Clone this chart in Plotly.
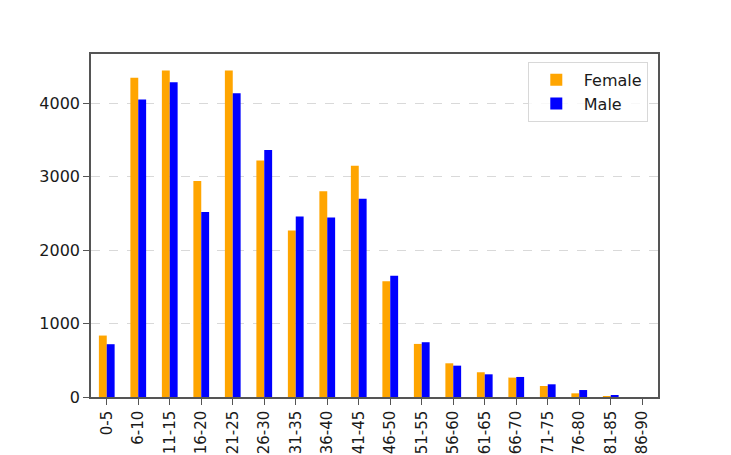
import plotly.graph_objects as go

age_groups = [
    "0-5", "6-10", "11-15", "16-20", "21-25", "26-30", "31-35", "36-40", "41-45",
    "46-50", "51-55", "56-60", "61-65", "66-70", "71-75", "76-80", "81-85", "86-90",
]
female = [837, 4348, 4447, 2943, 4447, 3220, 2269, 2801, 3151,
          1578, 723, 459, 337, 264, 150, 50, 4, 0]
male = [719, 4052, 4288, 2519, 4138, 3365, 2460, 2446, 2701,
        1651, 746, 427, 309, 273, 173, 95, 18, 0]

FONT = "DejaVu Sans, Arial, sans-serif"
TEXT = "#1a1a1a"
SPINE = "#555555"

fig = go.Figure()
fig.add_trace(go.Bar(x=age_groups, y=female, name="Female", marker=dict(color="#ffa500", line_width=0)))
fig.add_trace(go.Bar(x=age_groups, y=male, name="Male", marker=dict(color="#0000ff", line_width=0)))

# page body has an 8px margin, so the figure is shifted by 8px
fig.update_layout(
    width=715,
    height=447,
    margin=dict(l=83, r=65, t=46, b=58),
    barmode="group",
    bargap=0.5,
    bargroupgap=0,
    paper_bgcolor="#ffffff",
    plot_bgcolor="#ffffff",
    font=dict(family=FONT, size=16, color=TEXT),
    legend=dict(
        x=0.982,
        y=0.977,
        xanchor="right",
        yanchor="top",
        itemwidth=45,
        bgcolor="rgba(255,255,255,0.8)",
        bordercolor="#d8d8d8",
        borderwidth=1,
        font=dict(family=FONT, size=16, color=TEXT),
    ),
)
fig.update_xaxes(
    range=[-0.5, 17.5],
    tickangle=-90,
    ticks="outside",
    ticklen=6,
    tickcolor=SPINE,
    tickfont=dict(size=15),
    showline=True,
    linecolor=SPINE,
    linewidth=1.5,
    mirror=True,
    showgrid=False,
    automargin=False,
)
fig.update_yaxes(
    range=[0, 4672],
    tickvals=[0, 1000, 2000, 3000, 4000],
    ticks="outside",
    ticklen=6,
    tickcolor=SPINE,
    tickfont=dict(size=16),
    showline=True,
    linecolor=SPINE,
    linewidth=1.5,
    mirror=True,
    showgrid=True,
    gridcolor="#d9d9d9",
    griddash="dash",
    zeroline=False,
    automargin=False,
)

fig.write_html("out.html")
